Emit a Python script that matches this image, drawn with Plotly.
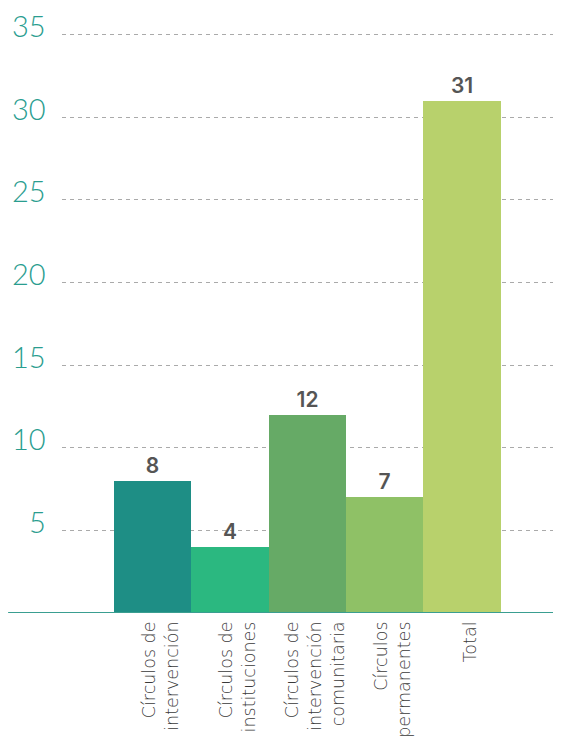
import plotly.graph_objects as go

categories = [
    "Círculos de<br>intervención",
    "Círculos de<br>instituciones",
    "Círculos de<br>intervención<br>comunitaria",
    "Círculos<br>permanentes",
    "Total",
]
values = [8, 4, 12, 7, 31]
colors = ["#1E8E85", "#2BB880", "#66AA66", "#8FC166", "#B8D16C"]
y_ticks = [5, 10, 15, 20, 25, 30, 35]

fig = go.Figure(go.Bar(
    x=list(range(len(categories))),
    y=values,
    marker=dict(color=colors, line=dict(width=0)),
    text=[str(v) for v in values],
    textposition="outside",
    textfont=dict(family="Inter", size=21, color="#555555", weight=600),
    cliponaxis=False,
))

# page body has an 8px margin, so the figure is drawn 8px smaller
fig.update_layout(
    width=553, height=728,
    margin=dict(t=20, b=123, l=54, r=0),
    plot_bgcolor="white", paper_bgcolor="white",
    bargap=0,
    showlegend=False,
    xaxis=dict(
        range=[-1.17, 5.28],
        tickmode="array",
        tickvals=list(range(len(categories))),
        ticktext=categories,
        tickangle=-90,
        tickfont=dict(family="DejaVu Sans", size=17.5, color="#3a3a3a", weight=300),
        showgrid=False, zeroline=False, showline=False,
        ticks="", ticklabelstandoff=4, ticklabelshift=8, automargin=False,
    ),
    yaxis=dict(
        range=[0, 35.4],
        tickmode="array",
        tickvals=y_ticks,
        showticklabels=False,
        showgrid=True, gridcolor="#aaaaaa", gridwidth=1, griddash="4px,4px",
        zeroline=False, showline=False, ticks="", automargin=False,
    ),
)

# y tick labels sit a little above their gridlines, so draw them as annotations
for t in y_ticks:
    fig.add_annotation(
        x=0, xref="paper", y=t, yref="y",
        text=str(t), showarrow=False,
        xanchor="right", yanchor="middle", xshift=-14, yshift=9,
        font=dict(family="Lato", size=29, color="#2A9D8F", weight=300),
    )

fig.add_shape(type="line", xref="paper", yref="y",
              x0=-0.108, x1=1, y0=0, y1=0,
              line=dict(color="#3A9E91", width=2), layer="above")

fig.write_html("out.html")
